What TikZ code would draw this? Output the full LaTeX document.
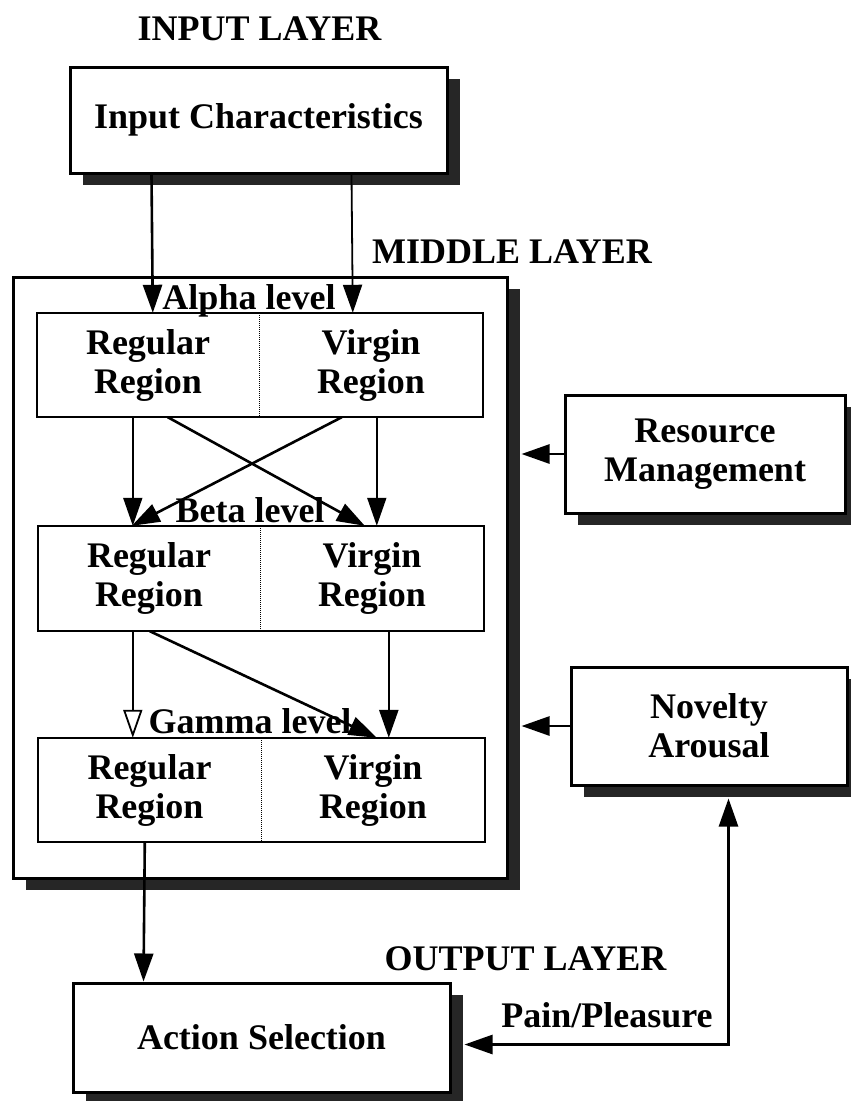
\documentclass[tikz,border=0pt]{standalone}
\usepackage{fontspec}
\setmainfont{Liberation Serif}
\usetikzlibrary{arrows.meta,shadows,calc}
\newcommand\dfont{\bfseries\fontsize{36}{39}\selectfont}
\begin{document}
\begin{tikzpicture}[x=1pt,y=-1pt,
  box/.style={draw, line width=3pt, fill=white, inner sep=0pt, font=\dfont, align=center,
    drop shadow={shadow xshift=13pt, shadow yshift=-12pt, fill=black!85, opacity=1}},
  cell/.style={inner sep=0pt, font=\dfont, align=center},
  regionframe/.style={draw, line width=2.5pt},
  divider/.style={line width=1pt, densely dotted},
  lbl/.style={font=\dfont, anchor=base, inner sep=0pt},
  conn/.style={line width=2.6pt, -{Triangle[length=28pt,width=19pt]}},
  thinconn/.style={line width=1.8pt, -{Triangle[length=28pt,width=19pt]}},
  openconn/.style={line width=1.8pt, -{Triangle[open,length=28pt,width=19pt]}},
  biconn/.style={line width=2.6pt, {Triangle[length=28pt,width=19pt]}-{Triangle[length=28pt,width=19pt]}}
]
\useasboundingbox (0,0) rectangle (851,1101);

% top labels
\node[lbl] (inputlbl) at (259.5,40) {INPUT LAYER};
\node[lbl] (middlelbl) at (512,263) {MIDDLE LAYER};
\node[lbl] (outputlbl) at (525.5,970) {OUTPUT LAYER};

% main boxes
\node[box, minimum width=377pt, minimum height=106pt] (input) at (258.5,120) {Input Characteristics};
\node[box, minimum width=494pt, minimum height=601pt] (middle) at (260,577.5) {};
\node[box, minimum width=280pt, minimum height=118pt] (resource) at (705,454) {Resource\\Management};
\node[box, minimum width=276pt, minimum height=118pt] (novelty) at (709,726) {Novelty\\Arousal};
\node[box, minimum width=377pt, minimum height=109pt] (action) at (261.5,1037.5) {Action Selection};

% region cells
\node[cell, minimum width=222pt, minimum height=104pt] (ar) at (148,365) {Regular\\Region};
\node[cell, minimum width=224pt, minimum height=104pt] (av) at (371,365) {Virgin\\Region};
\node[cell, minimum width=222pt, minimum height=105pt] (br) at (149,578.5) {Regular\\Region};
\node[cell, minimum width=224pt, minimum height=105pt] (bv) at (372,578.5) {Virgin\\Region};
\node[cell, minimum width=223pt, minimum height=104pt] (gr) at (149.5,790) {Regular\\Region};
\node[cell, minimum width=224pt, minimum height=104pt] (gv) at (373,790) {Virgin\\Region};

\draw[regionframe] (ar.north west) rectangle (av.south east);
\draw[divider] (ar.north east) -- (ar.south east);
\draw[regionframe] (br.north west) rectangle (bv.south east);
\draw[divider] (br.north east) -- (br.south east);
\draw[regionframe] (gr.north west) rectangle (gv.south east);
\draw[divider] (gr.north east) -- (gr.south east);

% input -> alpha
\draw[conn] ($(input.south west)+(83,0)$) -- ($(ar.north west)+(116,0)$);
\draw[thinconn] ($(input.south west)+(283,0)$) -- ($(av.north west)+(94,0)$);

% alpha -> beta
\draw[thinconn] ($(ar.south west)+(96,0)$) -- ($(br.north west)+(95,0)$);
\draw[thinconn] ($(av.south west)+(118,0)$) -- ($(bv.north west)+(117,0)$);
\draw[conn] ($(ar.south west)+(131,0)$) -- ($(bv.north west)+(105,0)$);
\draw[conn] ($(av.south west)+(83,0)$) -- ($(br.north west)+(94,0)$);

% beta -> gamma
\draw[openconn] ($(br.south west)+(95,0)$) -- ($(gr.north west)+(95,0)$);
\draw[conn] ($(bv.south west)+(129,0)$) -- ($(gv.north west)+(128,0)$);
\draw[conn] ($(br.south west)+(112,0)$) -- ($(gv.north west)+(116,0)$);

% gamma -> action
\draw[conn] ($(gr.south west)+(107,0)$) -- ($(action.north west)+(72,0)$);

% side inputs
\draw[conn] (resource.west) -- ($(middle.east |- resource.west)+(13,0)$);
\draw[conn] (novelty.west) -- ($(middle.east |- novelty.west)+(13,0)$);

% pain/pleasure feedback
\draw[biconn] ($(novelty.south west)+(159,12)$) |- ($(action.south east)+(13,-49)$);
\node[lbl] (painlbl) at (607,1027) {Pain/Pleasure};

% level labels
\node[lbl] (alphalbl) at (249,309) {Alpha level};
\node[lbl] (betalbl) at (250,522) {Beta level};
\node[lbl] (gammalbl) at (250,733) {Gamma level};
\end{tikzpicture}
\end{document}
